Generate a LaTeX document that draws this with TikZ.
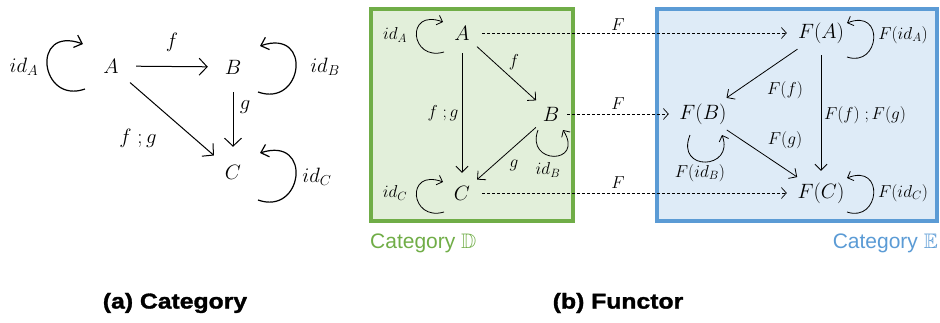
\documentclass[tikz,border=0pt]{standalone}
\usepackage{amssymb}
\usepackage{fontspec}
\newfontfamily\sansf{Liberation Sans}
\newfontfamily\capf[BoldFeatures={FakeStretch=1.15,FakeBold=1.5}]{Liberation Sans}
\usetikzlibrary{arrows.meta,shapes.geometric}
\definecolor{gfill}{HTML}{E2EFDA}
\definecolor{gline}{HTML}{70AD47}
\definecolor{bfill}{HTML}{DEEBF7}
\definecolor{bline}{HTML}{5B9BD5}
\begin{document}
\begin{tikzpicture}[x=1pt,y=-1pt,
  bigobj/.style={circle,minimum size=50pt,inner sep=0pt,font=\fontsize{22.5}{26}\selectfont},
  biglab/.style={inner sep=0pt,font=\fontsize{20.5}{24}\selectfont},
  bigarr/.style={line width=1pt,-{Straight Barb[length=8pt,width=17pt]}},
  bigloop/.style={line width=1.2pt,-{Straight Barb[length=7pt,width=13pt]}},
  medobj/.style={circle,minimum size=40pt,inner sep=0pt,font=\fontsize{20}{24}\selectfont},
  fobj/.style={ellipse,minimum width=68pt,minimum height=44pt,inner sep=0pt,font=\fontsize{20}{24}\selectfont},
  medlab/.style={inner sep=0pt,font=\fontsize{17}{20}\selectfont},
  medarr/.style={line width=0.8pt,-{Straight Barb[length=6pt,width=12pt]}},
  medloop/.style={line width=0.8pt,-{Straight Barb[length=5pt,width=10pt]}},
  mapsto/.style={line width=0.7pt,dash pattern=on 3pt off 2pt,-{Straight Barb[length=5pt,width=11pt]}},
  catbox/.style={line width=4pt},
  cattitle/.style={inner sep=0pt,font=\sansf\fontsize{21}{24}\selectfont},
  caption/.style={inner sep=0pt,font=\capf\bfseries\fontsize{21.5}{26}\selectfont}
]
\useasboundingbox (0,0) rectangle (940,322);

% ---------- (a) Category ----------
\node[bigobj] (lA) at (111,66) {$A$};
\node[bigobj] (lB) at (233,67) {$B$};
\node[bigobj] (lC) at (233,172) {$C$};
\draw[bigarr] (lA) -- (lB);
\draw[bigarr] (lB) -- (lC);
\draw[bigarr] (lA) -- (lC);
\draw[bigloop] (85,89) .. controls (40,105) and (30,25) .. (83,44);
\draw[bigloop] (258,92) .. controls (303,108) and (313,28) .. (260,46);
\draw[bigloop] (258,200) .. controls (303,216) and (313,136) .. (260,153);
\node[biglab] (lf) at (172,42) {$f$};
\node[biglab] (lg) at (245,107) {$g$};
\node[biglab] (lfg) at (138,138) {$f\;;g$};
\node[biglab] (lidA) at (24,67) {$id_A$};
\node[biglab] (lidB) at (325,67) {$id_B$};
\node[biglab] (lidC) at (317,177) {$id_C$};

% ---------- (b) Functor: boxes ----------
\draw[catbox,draw=gline,fill=gfill] (371,9) rectangle (573,221);
\draw[catbox,draw=bline,fill=bfill] (657,9) rectangle (937,221);
\node[cattitle,text=gline,anchor=west] (tD) at (370,243) {Category $\mathbb{D}$};
\node[cattitle,text=bline,anchor=east] (tE) at (938,243) {Category $\mathbb{E}$};

% category D
\node[medobj] (gA) at (462,33) {$A$};
\node[medobj] (gB) at (551,114) {$B$};
\node[medobj] (gC) at (462,193) {$C$};
\draw[medarr] (gA) -- (gB);
\draw[medarr] (gA) -- (gC);
\draw[medarr] (gB) -- (gC);
\draw[medloop] (444,52) .. controls (410,62) and (405,8) .. (443,22);
\draw[medloop] (444,212) .. controls (410,222) and (405,168) .. (443,182);
\draw[medloop] (538,130) .. controls (525,165) and (585,165) .. (563,130);
\node[medlab] (gidA) at (395,35) {$id_A$};
\node[medlab] (gf) at (514,62) {$f$};
\node[medlab] (gfg) at (443,113) {$f\;;g$};
\node[medlab] (gg) at (514,165) {$g$};
\node[medlab] (gidB) at (548,170) {$id_B$};
\node[medlab] (gidC) at (395,193) {$id_C$};

% category E
\node[fobj] (FA) at (821,33) {$F(A)$};
\node[fobj] (FB) at (703,114) {$F(B)$};
\node[fobj] (FC) at (821,193) {$F(C)$};
\draw[medarr] (FA) -- (FB);
\draw[medarr] (FA) -- (FC);
\draw[medarr] (FB) -- (FC);
\draw[medloop] (847,57) .. controls (880,68) and (885,8) .. (847,23);
\draw[medloop] (847,212) .. controls (880,223) and (885,163) .. (847,178);
\draw[medloop] (690,135) .. controls (675,172) and (735,170) .. (722,135);
\node[medlab] (FidA) at (903,35) {$F(id_A)$};
\node[medlab] (Ff) at (785,90) {$F(f)$};
\node[medlab] (Ffg) at (865,115) {$F(f)\;;F(g)$};
\node[medlab] (Fg) at (785,140) {$F(g)$};
\node[medlab] (FidB) at (700,173) {$F(id_B)$};
\node[medlab] (FidC) at (903,193) {$F(id_C)$};

% functor mapping
\draw[mapsto] (gA) -- (FA);
\draw[mapsto,shorten <=-4pt] (gB) -- (FB);
\draw[mapsto] (gC) -- (FC);
\node[medlab] (mA) at (618,25) {$F$};
\node[medlab] (mB) at (618,104) {$F$};
\node[medlab] (mC) at (618,183) {$F$};

% captions
\node[caption] (capa) at (175,303) {(a) Category};
\node[caption] (capb) at (618,303) {(b) Functor};
\end{tikzpicture}
\end{document}
